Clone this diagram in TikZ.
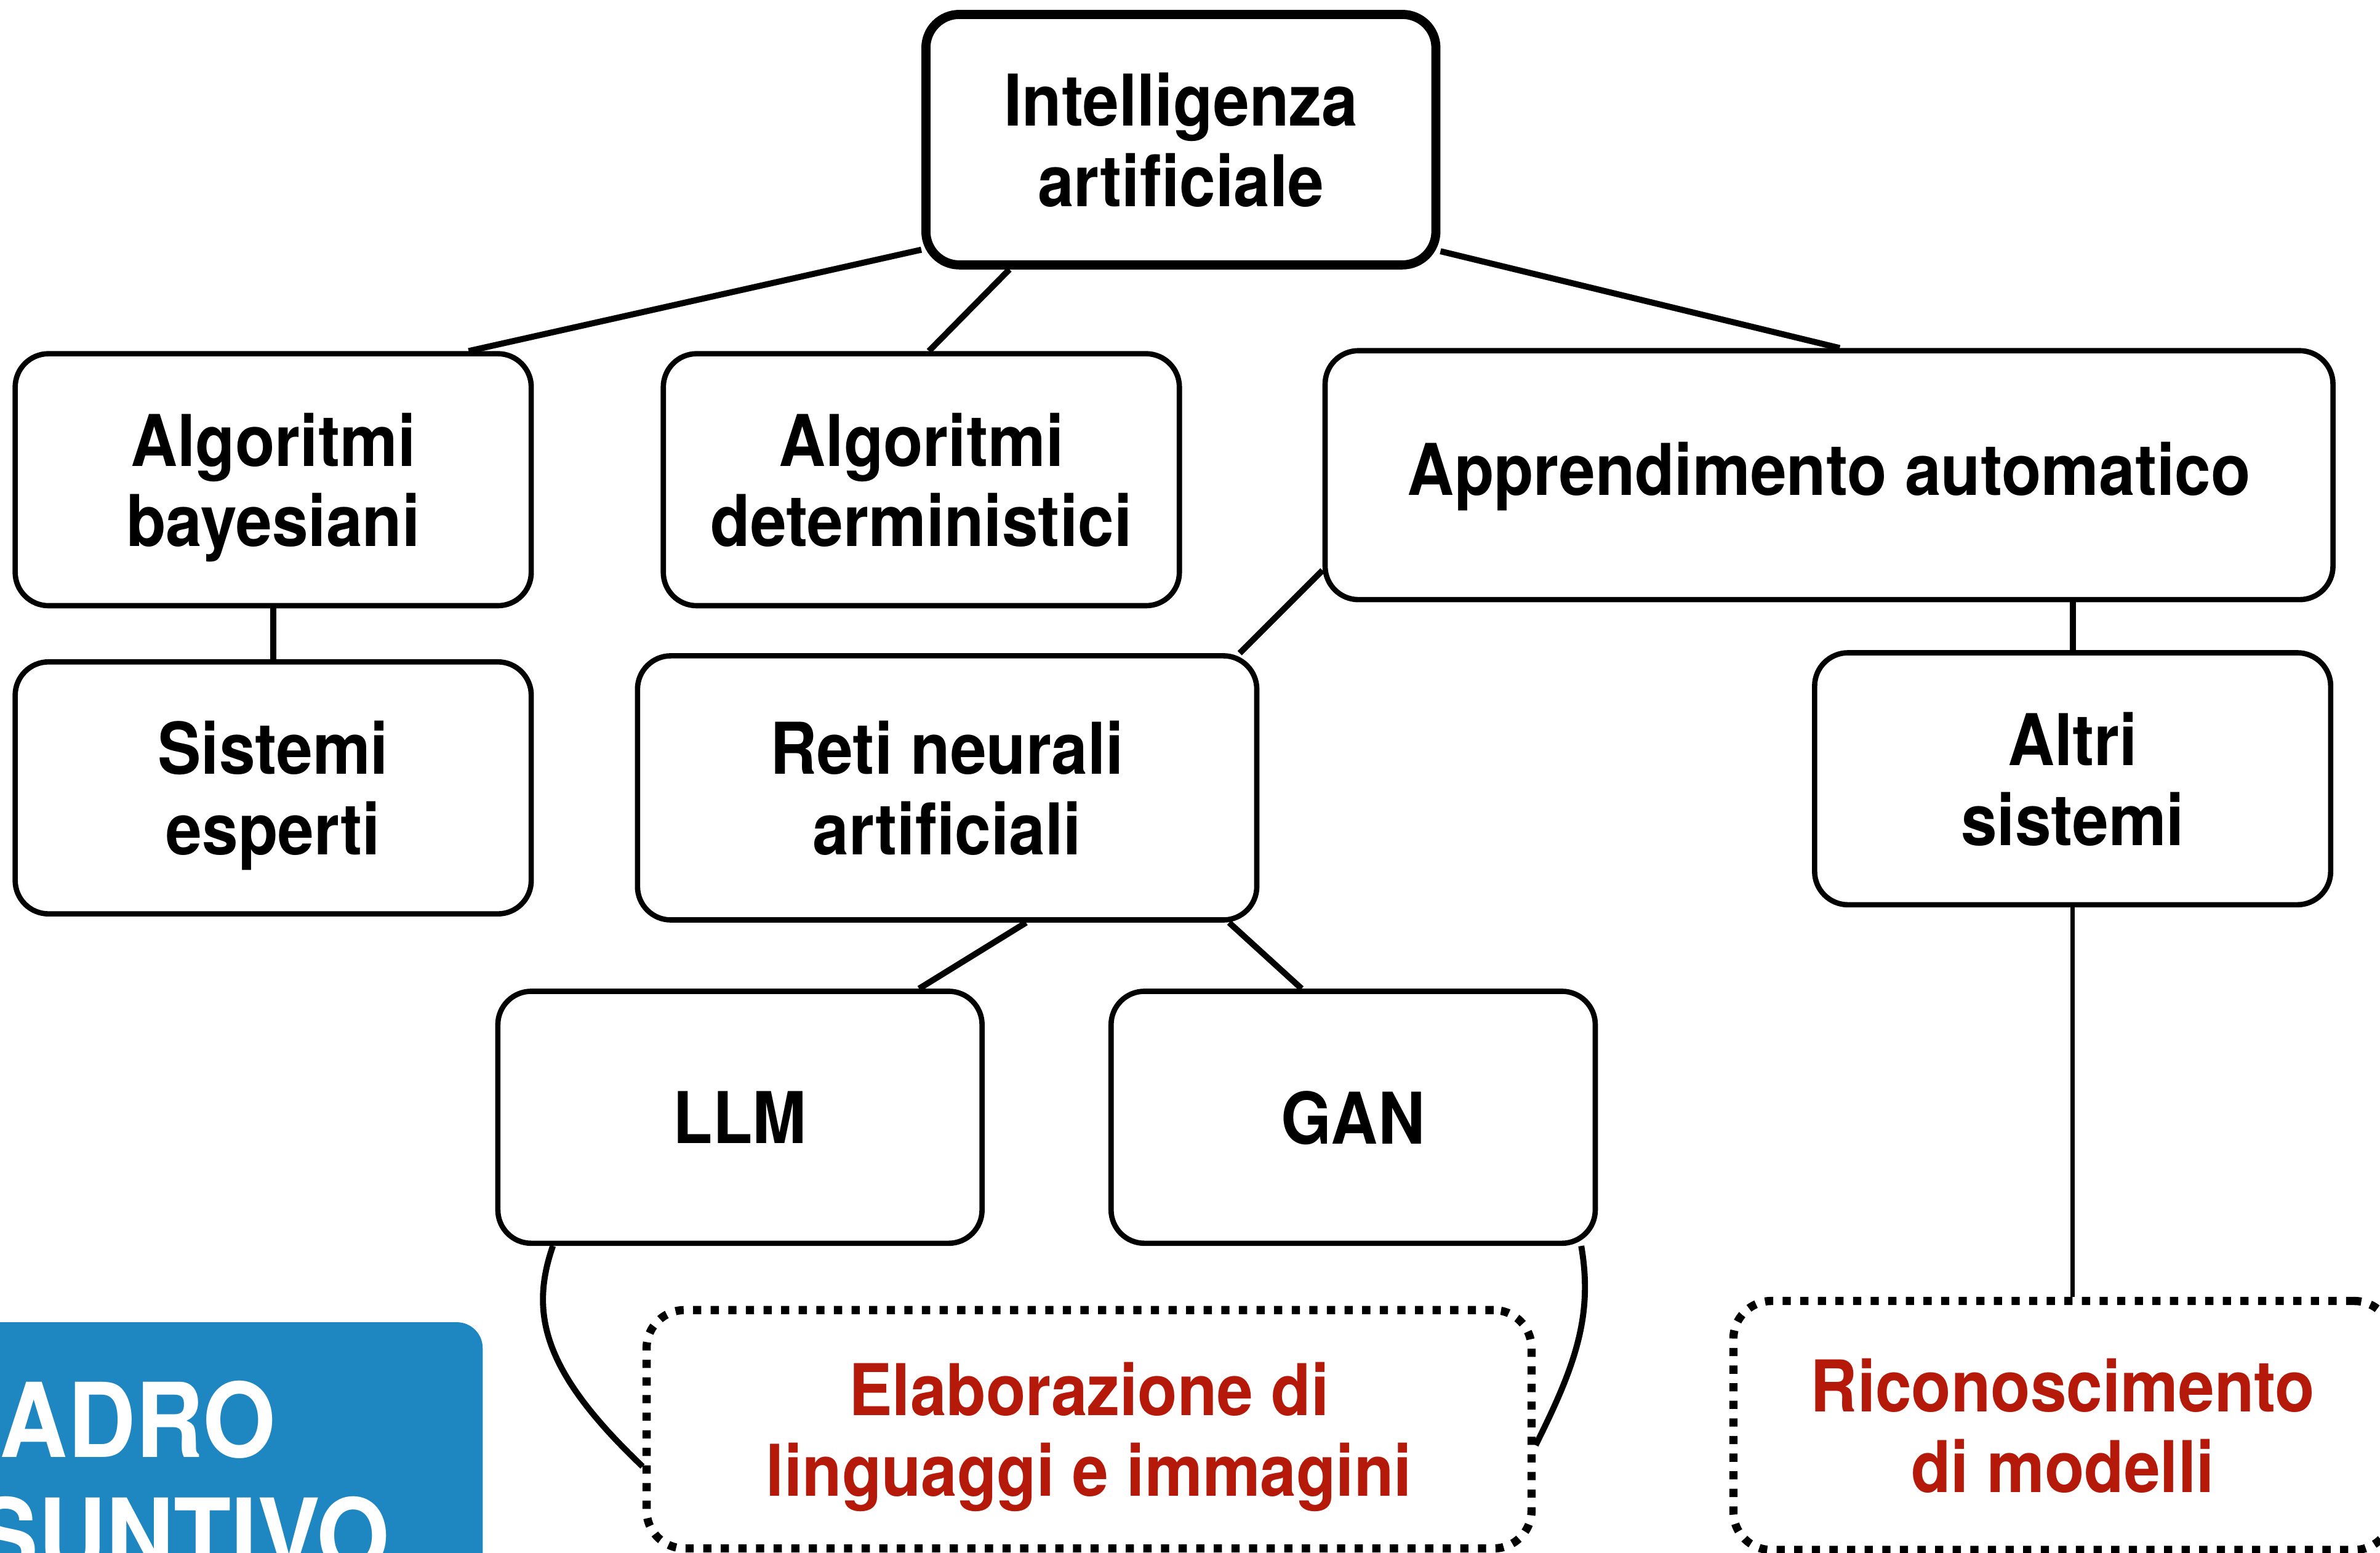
\documentclass[tikz,border=0pt]{standalone}
\usepackage{fontspec}
\setmainfont{TeX Gyre Heros}[FakeStretch=0.91]
\usetikzlibrary{calc}
\definecolor{sintesi}{RGB}{30,135,193}
\definecolor{rosso}{RGB}{180,25,10}

\begin{document}
\begin{tikzpicture}[x=1pt,y=-1pt,
  box/.style={draw,line width=3.5pt,rounded corners=22pt,fill=white,inner sep=0pt,align=center,
    text depth=0pt,font=\bfseries\fontsize{47}{53}\selectfont},
  esito/.style={box,line width=5.4pt,dash pattern=on 5.4pt off 6.2pt,text=rosso,rounded corners=25pt},
  link/.style={line width=4pt}]
\useasboundingbox (0,0) rectangle (1568,1023);
\clip (0,0) rectangle (1568,1023);
\node[box,line width=6pt,minimum width=336pt,minimum height=165pt] (ia) at (778,92) {Intelligenza\\artificiale};
\node[box,minimum width=340pt,minimum height=166pt] (bayes) at (180,316) {Algoritmi\\bayesiani};
\node[box,minimum width=340pt,minimum height=166pt] (determ) at (607,316) {Algoritmi\\deterministici};
\node[box,text depth=9pt,minimum width=664pt,minimum height=164pt] (apprend) at (1205,313) {Apprendimento automatico};
\node[box,minimum width=340pt,minimum height=166pt] (sistesp) at (180,519) {Sistemi\\esperti};
\node[box,minimum width=408pt,minimum height=174pt] (reti) at (624,519) {Reti neurali\\artificiali};
\node[box,minimum width=340pt,minimum height=166pt] (altri) at (1365.5,513) {Altri\\sistemi};
\node[box,minimum width=319pt,minimum height=166pt] (llm) at (487.5,736) {LLM};
\node[box,minimum width=319pt,minimum height=166pt] (gan) at (891.5,736) {GAN};
\node[esito,minimum width=583pt,minimum height=157pt] (elab) at (717.5,941.5) {Elaborazione di\\linguaggi e immagini};
\node[esito,minimum width=434pt,minimum height=164pt] (ricon) at (1359,939) {Riconoscimento\\di modelli};
% riquadro blu
\fill[sintesi,rounded corners=17pt] (-40,871) rectangle (318,1080);
\node[anchor=base east,text=white,inner sep=0pt,font=\bfseries\fontsize{68}{76}\selectfont] (quadro1) at (182,960) {ADRO};
\node[anchor=base east,text=white,inner sep=0pt,font=\bfseries\fontsize{68}{76}\selectfont] (quadro2) at (257,1036) {SUNTIVO};
% collegamenti
\draw[link] ($(ia.south west)+(0,-13)$) -- ($(bayes.north east)+(-43,0)$);
\draw[link] ($(ia.south west)+(58,0)$) -- ($(determ.north)+(5,0)$);
\draw[link] ($(ia.south east)+(0,-12)$) -- ($(apprend.north)+(7,0)$);
\draw[link] (bayes.south) -- (sistesp.north);
\draw[link] ($(apprend.south west)+(0,-21)$) -- ($(reti.north east)+(-13,0)$);
\draw[link] (altri.north) -- (altri.north |- apprend.south);
\draw[link] ($(reti.south)+(52,0)$) -- ($(llm.north)+(118,0)$);
\draw[link] ($(reti.south east)+(-20,0)$) -- ($(gan.north)+(-34,0)$);
\draw[line width=3pt] (altri.south) -- (altri.south |- ricon.north);
\draw[link] ($(llm.south west)+(38,0)$) .. controls +(-16,46) and +(-64,-61) .. ($(elab.west)+(0,24.5)$);
\draw[link] ($(gan.south east)+(-11,0)$) .. controls +(8,46) and +(26,-52) .. ($(elab.east)+(0,10.5)$);
\end{tikzpicture}
\end{document}
